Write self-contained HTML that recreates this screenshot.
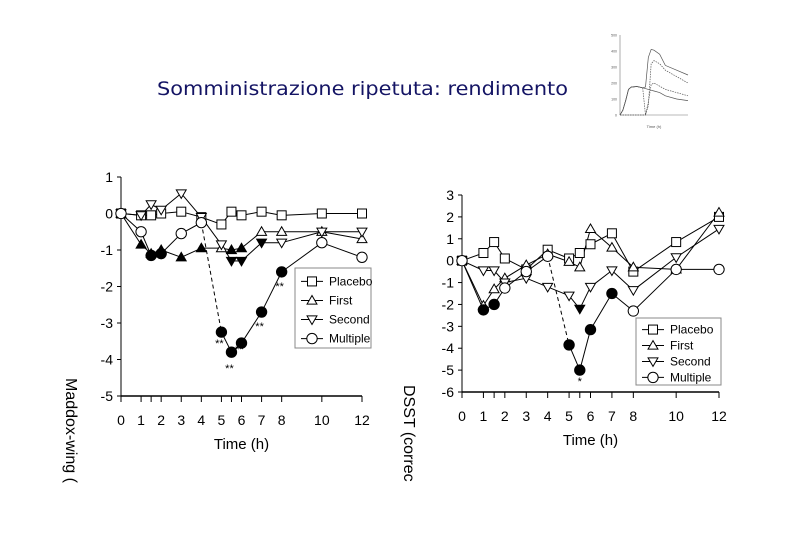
<!DOCTYPE html>
<html><head><meta charset="utf-8">
<style>html,body{margin:0;padding:0;background:#fff;width:810px;height:540px;overflow:hidden}</style>
</head><body>
<svg id="s" width="810" height="540" xmlns="http://www.w3.org/2000/svg" font-family="Liberation Sans, sans-serif">
<text x="157" y="95" font-family="DejaVu Sans, sans-serif" font-size="19" fill="#141464" textLength="411" lengthAdjust="spacingAndGlyphs">Somministrazione ripetuta: rendimento</text>
<g id="inset"></g>
<g id="left"></g>
<g id="right"></g>
<text transform="translate(66,378) rotate(90)" font-size="16" fill="#000">Maddox-wing (</text>
<text transform="translate(404,385) rotate(90)" font-size="16" fill="#000">DSST (correc</text>
</svg>
<script>
const times=[0,1,1.5,2,3,4,5,5.5,6,7,8,10,12];
const tickLabels=["0","1","2","3","4","5","6","7","8","10","12"];
const tickLabelVals=[0,1,2,3,4,5,6,7,8,10,12];
const seriesNames=["Placebo","First","Second","Multiple"];
// Left (Maddox-wing)
const L_placebo=[0,-0.05,-0.05,0,0.05,-0.1,-0.3,0.05,-0.05,0.05,-0.05,0,0];
const L_first=[0,-0.85,-1.1,-1,-1.2,-0.95,-0.95,-1,-0.95,-0.5,-0.5,-0.5,-0.7];
const L_second=[0,-0.05,0.25,0.1,0.55,-0.1,-0.85,-1.3,-1.3,-0.8,-0.8,-0.5,-0.5];
const L_multiple=[0,-0.5,-1.15,-1.1,-0.55,-0.25,-3.25,-3.8,-3.55,-2.7,-1.6,-0.8,-1.2];
const L_firstFilled=[0,1,1,1,1,1,0,1,1,0,0,0,0];
const L_secondFilled=[0,0,0,0,0,0,0,1,1,1,0,0,0];
const L_multFilled=[0,0,1,1,0,0,1,1,1,1,1,0,0];
const L_yTicks=[1,0,-1,-2,-3,-4,-5];
// Right (DSST)
const R_placebo=[0,0.35,0.85,0.1,-0.4,0.5,0.1,0.35,0.75,1.25,-0.5,0.85,2];
const R_first=[0,-2.05,-1.3,-0.8,-0.2,0.3,-0.05,-0.3,1.45,0.6,-0.3,-0.4,2.2];
const R_second=[0,-0.45,-0.45,-1.0,-0.8,-1.2,-1.6,-2.2,-1.2,-0.45,-1.35,0.15,1.45];
const R_multiple=[0,-2.25,-2.0,-1.25,-0.5,0.2,-3.85,-5.0,-3.15,-1.5,-2.3,-0.4,-0.4];
const R_secondFilled=[0,0,0,0,0,0,0,1,0,0,0,0,0];
const R_multFilled=[0,1,1,0,0,0,1,1,1,1,0,0,0];
const R_yTicks=[3,2,1,0,-1,-2,-3,-4,-5,-6];

const NS="http://www.w3.org/2000/svg";
function mk(p,tag,at){const e=document.createElementNS(NS,tag);for(const k in at)e.setAttribute(k,at[k]);p.appendChild(e);return e;}
function marker(g,type,x,y,filled,r){
  const f=filled?"#000":"#fff";let e;
  if(type==="sq")e=mk(g,"rect",{x:x-r,y:y-r,width:2*r,height:2*r,fill:f,stroke:"#000","stroke-width":1});
  else if(type==="up")e=mk(g,"polygon",{points:`${x},${y-r*1.1} ${x-r*1.1},${y+r*0.8} ${x+r*1.1},${y+r*0.8}`,fill:f,stroke:"#000","stroke-width":1});
  else if(type==="dn")e=mk(g,"polygon",{points:`${x},${y+r*1.1} ${x-r*1.1},${y-r*0.8} ${x+r*1.1},${y-r*0.8}`,fill:f,stroke:"#000","stroke-width":1});
  else e=mk(g,"circle",{cx:x,cy:y,r:r*1.15,fill:f,stroke:"#000","stroke-width":1});
  
  
}
function chart(g,cfg){
  const X=t=>cfg.x0+t*(cfg.x1-cfg.x0)/12;
  const Y=v=>cfg.y0+(cfg.ymax-v)*(cfg.yb-cfg.y0)/(cfg.ymax-cfg.ymin);
  const ax=mk(g,"line",{x1:cfg.x0,y1:Y(cfg.ymax),x2:cfg.x0,y2:Y(cfg.ymin),stroke:"#000"});
  
  const bx=mk(g,"line",{x1:cfg.x0,y1:Y(cfg.ymin),x2:cfg.x1,y2:Y(cfg.ymin),stroke:"#000","stroke-width":1.5});
  
  cfg.yTicks.forEach(v=>{
    mk(g,"line",{x1:cfg.x0-4,y1:Y(v),x2:cfg.x0,y2:Y(v),stroke:"#000"});
    const t=mk(g,"text",{x:cfg.x0-8,y:Y(v)+5,"text-anchor":"end","font-size":14});t.textContent=String(v).replace("-","-");
    
  });
  times.forEach(v=>mk(g,"line",{x1:X(v),y1:Y(cfg.ymin),x2:X(v),y2:Y(cfg.ymin)+6,stroke:"#000"}));
  tickLabelVals.forEach((v,i)=>{const t=mk(g,"text",{x:X(v),y:Y(cfg.ymin)+29,"text-anchor":"middle","font-size":14});t.textContent=tickLabels[i];
    });
  const xt=mk(g,"text",{x:(cfg.x0+cfg.x1)/2,y:Y(cfg.ymin)+53,"text-anchor":"middle","font-size":15});xt.textContent="Time (h)";
  
  const defs=[["sq",cfg.placebo,null],["up",cfg.first,cfg.firstFilled],["dn",cfg.second,cfg.secondFilled],["ci",cfg.multiple,cfg.multFilled]];
  defs.forEach(([type,vals,fill],si)=>{
    for(let i=0;i<vals.length-1;i++){
      const dash=(si===3&&i===5)?"4,3":"none";
      mk(g,"line",{x1:X(times[i]),y1:Y(vals[i]),x2:X(times[i+1]),y2:Y(vals[i+1]),stroke:"#000","stroke-width":1,"stroke-dasharray":dash});
    }
  });
  defs.forEach(([type,vals,fill])=>vals.forEach((v,i)=>marker(g,type,X(times[i]),Y(v),fill?fill[i]:0,cfg.r)));
  cfg.stars.forEach(([ti,ser,dy,txt])=>{const t=mk(g,"text",{x:X(times[ti])+(cfg.starDx||0),y:Y(defs[ser][1][ti])+dy,"text-anchor":"middle","font-size":11});t.textContent=txt;
    });
  // legend
  const lg=mk(g,"g",{});
  mk(lg,"rect",{x:cfg.lx,y:cfg.ly,width:cfg.lw,height:cfg.lh,fill:"#fff",stroke:"#888"});
  ["sq","up","dn","ci"].forEach((type,i)=>{
    const yy=cfg.ly+cfg.lh*(i+0.6)/4.2+2;
    mk(lg,"line",{x1:cfg.lx+6,y1:yy,x2:cfg.lx+28,y2:yy,stroke:"#000"});
    marker(lg,type,cfg.lx+17,yy,0,cfg.r);
    const t=mk(lg,"text",{x:cfg.lx+34,y:yy+4,"font-size":12});t.textContent=seriesNames[i];
    
  });
}
chart(document.getElementById("left"),{x0:121,x1:362,y0:177,yb:396,ymax:1,ymin:-5,yTicks:L_yTicks,r:4.5,
  placebo:L_placebo,first:L_first,second:L_second,multiple:L_multiple,firstFilled:L_firstFilled,secondFilled:L_secondFilled,multFilled:L_multFilled,
  stars:[[6,3,15,"**"],[7,3,20,"**"],[8,3,10,"**"],[9,3,18,"**"],[10,3,18,"**"]],starDx:-2,
  lx:295,ly:268,lw:76,lh:80});
chart(document.getElementById("right"),{x0:462,x1:719,y0:195,yb:392,ymax:3,ymin:-6,yTicks:R_yTicks,r:4.5,
  placebo:R_placebo,first:R_first,second:R_second,multiple:R_multiple,firstFilled:null,secondFilled:R_secondFilled,multFilled:R_multFilled,
  stars:[[7,3,15,"*"]],
  lx:636,ly:318,lw:85,lh:67});
// inset
(function(){
  const g=document.getElementById("inset");
  const ix0=620,ix1=688,iy0=35,iy1=115;
  mk(g,"line",{x1:ix0,y1:iy0,x2:ix0,y2:iy1,stroke:"#777","stroke-width":0.6});
  mk(g,"line",{x1:ix0,y1:iy1,x2:ix1,y2:iy1,stroke:"#777","stroke-width":0.6});
  const it=[0,0.5,1,1.5,2,3,4,4.5,5,5.5,6,7,8,10,12];
  const a=[0,30,90,160,175,178,170,175,360,410,405,380,310,280,250];
  const b=[0,30,90,160,175,178,170,0,60,320,340,320,280,240,200];
  const c=[0,30,90,160,175,178,170,165,160,155,150,140,120,100,90];
  const d=[0,0,0,0,0,0,0,0,80,190,200,180,160,140,120];
  const IX=t=>ix0+t*(ix1-ix0)/12, IY=v=>iy1-v*(iy1-iy0)/500;
  [a,b,c,d].forEach((s,k)=>{const p=mk(g,"polyline",{points:s.map((v,i)=>IX(it[i])+","+IY(v)).join(" "),fill:"none",stroke:"#555","stroke-width":0.7,"stroke-dasharray":k%2?"1.5,1":"none"});
    });
  ["0","100","200","300","400","500"].forEach((l,i)=>{const t=mk(g,"text",{x:ix0-3,y:IY(i*100)+1.5,"text-anchor":"end","font-size":3.5,fill:"#555"});t.textContent=l;});
  const xt=mk(g,"text",{x:654,y:128,"text-anchor":"middle","font-size":4,fill:"#555"});xt.textContent="Time (h)";
})();
</script>
</body></html>
